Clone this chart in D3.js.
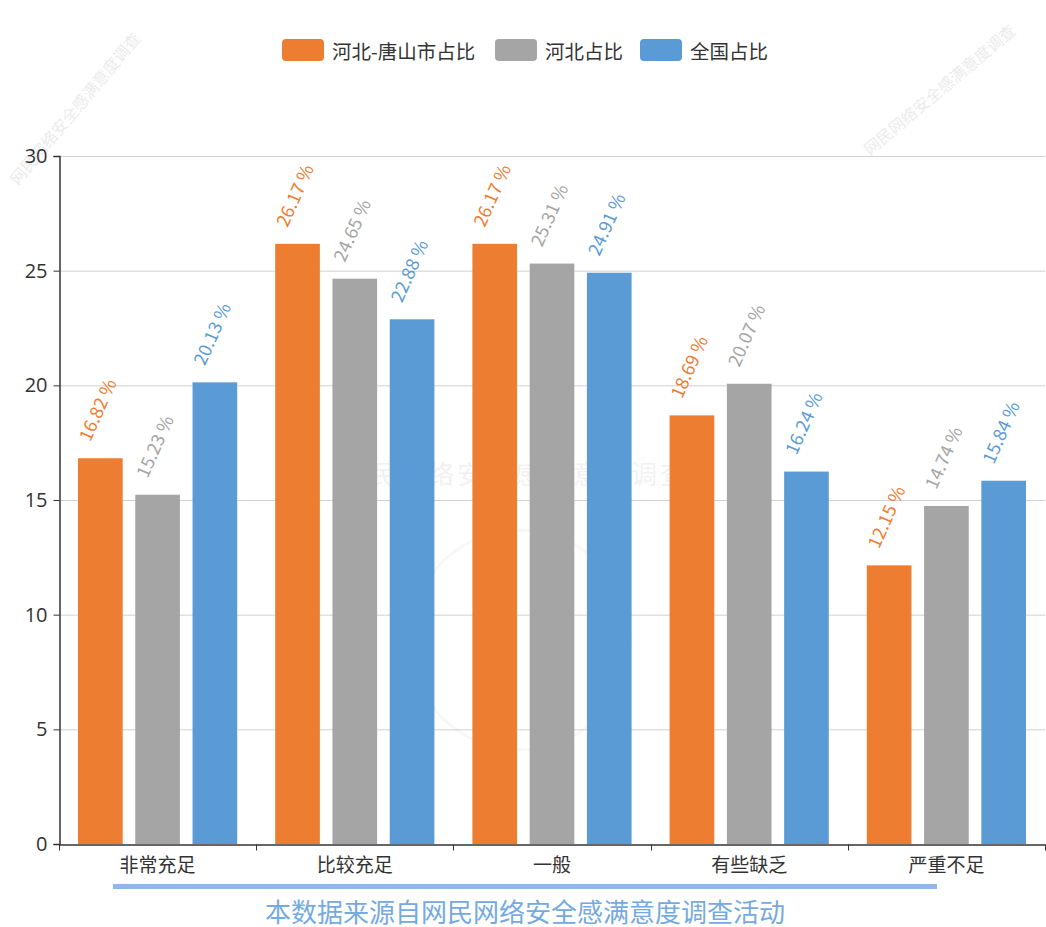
<!DOCTYPE html>
<html>
<head>
<meta charset="utf-8">
<script src="https://cdn.jsdelivr.net/npm/d3@7/dist/d3.min.js"></script>
<style>
  html, body { margin: 0; padding: 0; background: #fff; }
  svg { display: block; font-family: "Microsoft YaHei", "Noto Sans CJK SC", "Noto Sans", sans-serif; }
</style>
</head>
<body>
<svg id="chart" width="1046" height="927"></svg>
<script>
const categories = ["非常充足", "比较充足", "一般", "有些缺乏", "严重不足"];
const seriesNames = ["河北-唐山市占比", "河北占比", "全国占比"];
const tangshan = [16.82, 26.17, 26.17, 18.69, 12.15];
const hebei = [15.23, 24.65, 25.31, 20.07, 14.74];
const national = [20.13, 22.88, 24.91, 16.24, 15.84];
const yTicks = [0, 5, 10, 15, 20, 25, 30];
const footerText = "本数据来源自网民网络安全感满意度调查活动";
const watermarkText = "网民网络安全感满意度调查";

(function () {
const colors = ["#ed7d31", "#a5a5a5", "#5b9bd5"];
const seriesValues = [tangshan, hebei, national];

const svg = d3.select("#chart");
const pLeft = 59, pRight = 1045, pTop = 156, pBottom = 844;

const x0 = d3.scaleBand().domain(categories).range([pLeft, pRight]).padding(0);
const x1 = d3.scaleBand().domain(seriesNames).range([19, x0.bandwidth() - 19]).paddingInner(0.22).paddingOuter(0);
const y = d3.scaleLinear().domain([0, 30]).range([pBottom, pTop]);
const color = d3.scaleOrdinal().domain(seriesNames).range(colors);

// Watermarks (faint)
const wm = svg.append("g").attr("class", "watermarks");
wm.append("text").attr("x", 515).attr("y", 484).attr("text-anchor", "middle")
  .attr("font-size", 26).attr("fill", "#000").attr("opacity", 0.05).attr("letter-spacing", 3)
  .text(watermarkText);
wm.append("circle").attr("cx", 520).attr("cy", 640).attr("r", 110)
  .attr("fill", "none").attr("stroke", "#000").attr("stroke-width", 3).attr("opacity", 0.03);
const diag = [[18, 186, -50], [870, 156, -40]];
diag.forEach(d => {
  wm.append("text").attr("transform", `translate(${d[0]},${d[1]}) rotate(${d[2]})`)
    .attr("font-size", 16).attr("fill", "#000").attr("opacity", 0.08)
    .text(watermarkText);
});

// Grid lines
svg.append("g").selectAll("line").data(yTicks.filter(t => t !== 0)).join("line")
  .attr("x1", pLeft).attr("x2", pRight)
  .attr("y1", d => y(d) + 0.5).attr("y2", d => y(d) + 0.5)
  .attr("stroke", "#d0d0d0").attr("stroke-width", 1);

// Bars
const groups = svg.append("g").selectAll("g").data(categories).join("g")
  .attr("transform", d => `translate(${x0(d)},0)`);
groups.selectAll("rect").data((c, i) => seriesNames.map((s, j) => ({ s, v: seriesValues[j][i] })))
  .join("rect")
  .attr("x", d => x1(d.s))
  .attr("width", x1.bandwidth())
  .attr("y", d => y(d.v))
  .attr("height", d => y(0) - y(d.v))
  .attr("fill", d => color(d.s));

// Labels
groups.selectAll("text.val").data((c, i) => seriesNames.map((s, j) => ({ s, v: seriesValues[j][i] })))
  .join("text").attr("class", "val")
  .attr("transform", d => `translate(${x1(d.s) + x1.bandwidth() / 2 - 4},${y(d.v) - 49}) rotate(-66)`)
  .attr("text-anchor", "middle").attr("dominant-baseline", "central")
  .attr("font-size", 18).attr("fill", d => color(d.s))
  .text(d => d3.format(".2f")(d.v) + " %");

// Y axis
const yAxis = svg.append("g").attr("transform", `translate(${pLeft + 0.5},0)`)
  .call(d3.axisLeft(y).tickValues(yTicks).tickSize(6).tickPadding(6).tickFormat(d3.format("d")));
yAxis.select(".domain").attr("stroke", "#333").attr("stroke-width", 1.5);
yAxis.selectAll(".tick line").attr("stroke", "#333");
yAxis.selectAll(".tick text").attr("font-size", 20).attr("fill", "#333")
  .attr("font-family", "'Open Sans', 'Noto Sans', sans-serif");

// X axis
const xAxis = svg.append("g").attr("transform", `translate(0,${pBottom + 0.5})`)
  .call(d3.axisBottom(x0).tickSize(0).tickPadding(14));
xAxis.select(".domain").attr("stroke", "#333").attr("stroke-width", 1.5);
xAxis.selectAll(".tick text").attr("font-size", 19).attr("fill", "#333")
  .attr("font-family", "'Noto Sans CJK SC', sans-serif");
const bounds = categories.map(c => x0(c)).concat([pRight]);
xAxis.selectAll("line.bnd").data(bounds).join("line").attr("class", "bnd")
  .attr("x1", d => Math.round(d) + 0.5).attr("x2", d => Math.round(d) + 0.5)
  .attr("y1", 0).attr("y2", 6).attr("stroke", "#333");

// Legend
const legendX = [282, 495, 640];
const legend = svg.append("g").selectAll("g").data(seriesNames).join("g")
  .attr("transform", (d, i) => `translate(${legendX[i]},39)`);
legend.append("rect").attr("width", 42).attr("height", 22).attr("rx", 4)
  .attr("fill", d => color(d));
legend.append("text").attr("x", 50).attr("y", 11).attr("dominant-baseline", "central")
  .attr("font-size", 19.5).attr("fill", "#333")
  .attr("font-family", "'Noto Sans CJK SC', sans-serif")
  .text(d => d);

// Footer
svg.append("rect").attr("x", 113).attr("y", 884).attr("width", 824).attr("height", 5)
  .attr("fill", "#8db8e8");
svg.append("text").attr("x", 525).attr("y", 910).attr("text-anchor", "middle")
  .attr("dominant-baseline", "central").attr("font-size", 26).attr("fill", "#74aae0")
  .attr("font-family", "'Noto Sans CJK SC', sans-serif")
  .text(footerText);
})();
</script>
</body>
</html>
